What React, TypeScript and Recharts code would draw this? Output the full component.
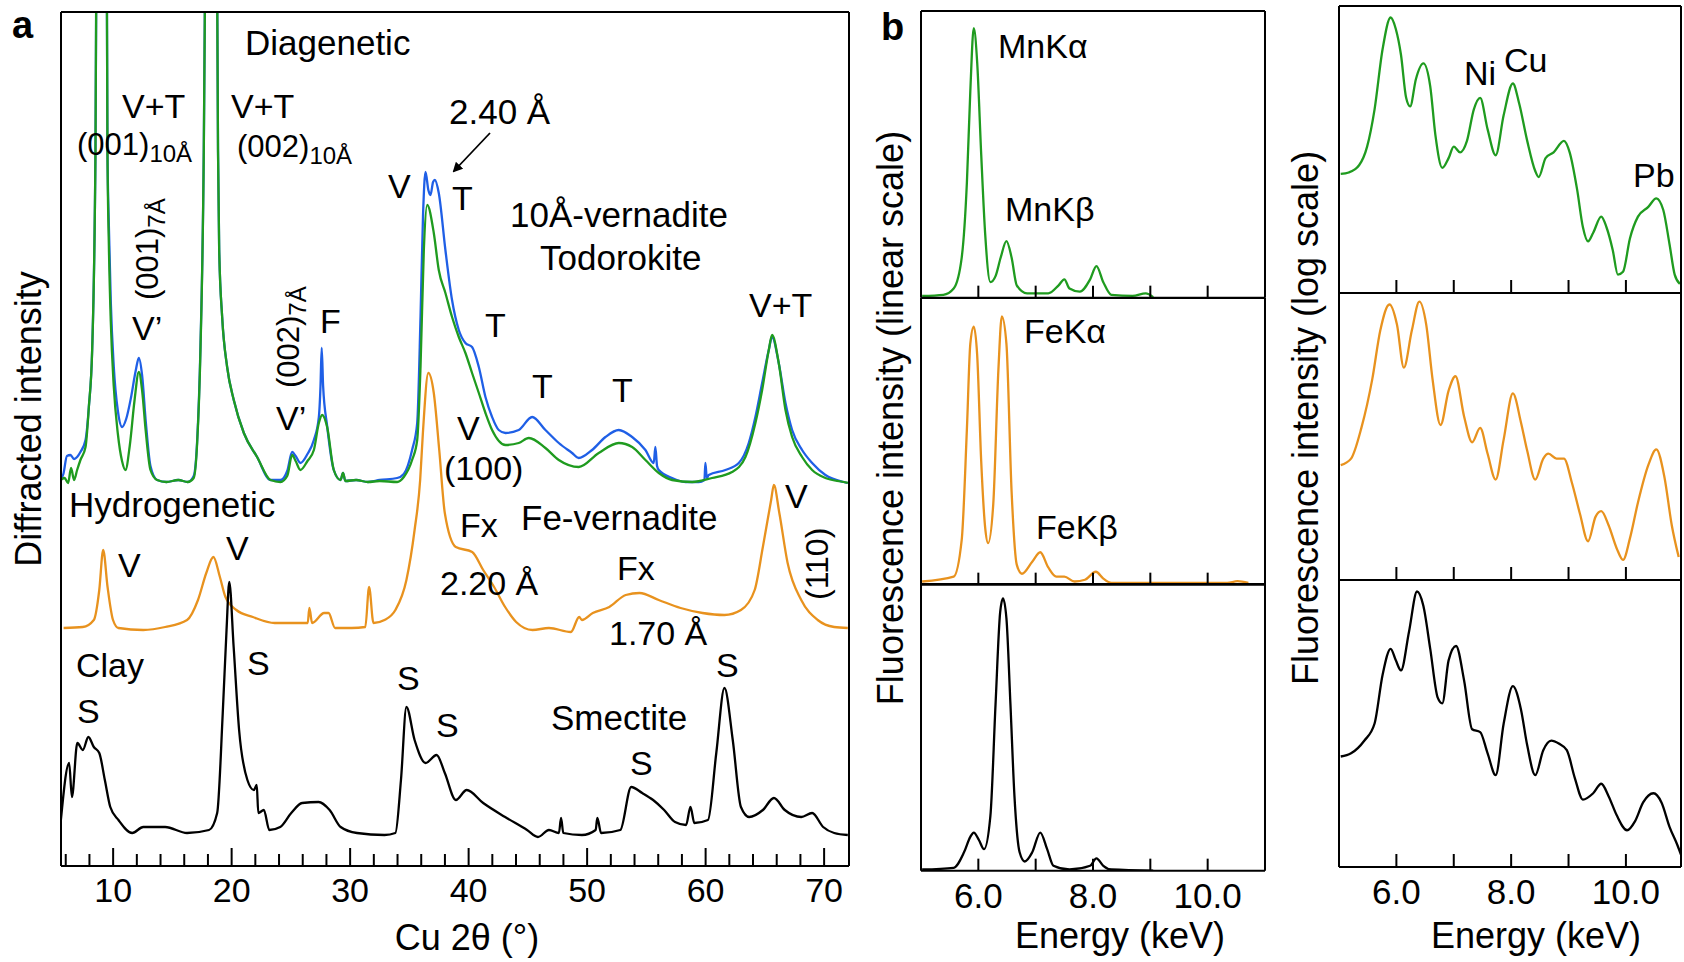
import React from "react";
import { LineChart, Line, XAxis, YAxis } from "recharts";

// ---------- panel a : XRD patterns, x = Cu 2θ (°), y = offset intensity ----------
const diageneticBlue: [number, number][] = [
  [5.56, 386], [5.8, 392], [6.1, 410], [6.4, 411], [6.7, 407], [6.96, 409], [7.24, 414], [7.67, 426],
  [7.95, 459], [8.23, 516], [8.51, 716], [8.6, 950], [9.0, 1400], [9.45, 950], [9.52, 716], [9.64, 640],
  [9.8, 565], [10.05, 500], [10.4, 455], [10.76, 439], [11.1, 447], [11.5, 468], [11.9, 495], [12.17, 508],
  [12.45, 490], [12.75, 445], [13.15, 400], [13.71, 386], [14.5, 384], [15.5, 386], [16.3, 384], [16.8, 390],
  [17.09, 425], [17.37, 520], [17.65, 716], [17.8, 950], [18.3, 1400], [18.75, 950], [18.85, 716], [18.95, 616],
  [19.2, 549], [19.62, 499], [20.18, 466], [21.03, 433], [22.15, 409], [23.28, 386], [24.12, 386], [24.69, 395],
  [25.11, 414], [25.4, 410], [25.81, 403], [26.4, 412], [26.94, 426], [27.36, 449], [27.5, 480], [27.6, 518],
  [27.72, 480], [28.06, 440], [28.62, 396], [29.19, 386], [29.4, 393], [29.6, 385], [30.5, 386], [31.5, 384],
  [32.5, 386], [33.97, 388], [34.53, 392], [35.23, 416], [35.66, 443], [35.94, 549], [36.15, 650], [36.36, 694],
  [36.6, 676], [36.78, 671], [37.0, 684], [37.15, 686], [37.48, 673], [38.04, 616], [38.6, 566], [39.17, 536],
  [39.73, 523], [40.29, 519], [40.86, 499], [41.42, 469], [41.98, 449], [42.54, 436], [43.11, 433], [44.23, 436],
  [45.36, 449], [46.48, 436], [47.61, 423], [48.73, 413], [49.29, 408], [50.42, 416], [51.55, 429], [52.67, 436],
  [53.8, 429], [54.92, 416], [55.62, 403], [55.76, 419], [55.9, 400], [56.05, 396], [57.17, 388], [58.3, 384],
  [59.42, 384], [59.9, 386], [59.98, 403], [60.1, 388], [60.26, 391], [61.67, 396], [62.8, 403], [63.64, 423],
  [64.2, 449], [64.77, 483], [65.33, 516], [65.61, 529], [66.17, 503], [66.74, 463], [67.3, 436], [68.14, 416],
  [68.99, 403], [70.11, 391], [71.66, 384], [72.0, 383],
];

const diageneticGreen: [number, number][] = [
  [5.56, 386], [5.9, 388], [6.2, 383], [6.45, 398], [6.7, 386], [6.96, 396], [7.24, 406], [7.67, 419],
  [7.95, 459], [8.23, 516], [8.51, 716], [8.6, 950], [9.0, 1400], [9.45, 950], [9.52, 716], [9.64, 620],
  [9.8, 545], [10.05, 480], [10.4, 432], [10.75, 405], [11.04, 396], [11.4, 420], [11.8, 465], [12.17, 494],
  [12.45, 475], [12.75, 435], [13.15, 396], [13.71, 386], [14.5, 384], [15.5, 386], [16.3, 384], [16.8, 388],
  [17.09, 423], [17.37, 516], [17.65, 716], [17.8, 950], [18.3, 1400], [18.75, 950], [18.85, 716], [18.95, 616],
  [19.2, 549], [19.62, 499], [20.18, 466], [21.03, 433], [22.15, 409], [23.28, 386], [24.12, 384], [24.69, 390],
  [25.11, 411], [25.4, 405], [25.81, 396], [26.4, 405], [26.94, 416], [27.36, 443], [27.64, 451], [28.06, 439],
  [28.62, 396], [29.19, 386], [29.4, 393], [29.6, 385], [30.5, 386], [31.5, 384], [32.5, 385], [33.97, 384],
  [34.53, 389], [35.23, 406], [35.66, 426], [35.94, 499], [36.22, 616], [36.5, 661], [37.06, 633], [37.48, 596],
  [38.04, 573], [38.6, 549], [39.17, 529], [39.73, 513], [40.29, 493], [40.86, 473], [41.42, 453], [41.98, 436],
  [43.11, 421], [44.23, 423], [45.08, 428], [46.48, 418], [47.61, 406], [49.29, 399], [50.98, 413], [52.67, 423],
  [53.8, 419], [54.92, 406], [56.05, 393], [57.17, 386], [58.86, 384], [60.54, 388], [62.23, 394], [63.36, 409],
  [64.2, 443], [64.77, 476], [65.33, 516], [65.61, 531], [66.17, 503], [66.74, 456], [67.3, 429], [68.14, 409],
  [68.99, 396], [70.11, 388], [71.66, 384], [72.0, 383],
];

const hydrogeneticOrange: [number, number][] = [
  [5.82, 238], [7.44, 239], [8.37, 246], [8.83, 276], [9.16, 316], [9.53, 279], [9.99, 246], [10.45, 238],
  [12.54, 236], [14.39, 239], [16.24, 246], [17.16, 266], [17.86, 293], [18.46, 309], [19.01, 289], [19.48, 269],
  [20.4, 256], [21.79, 249], [23.64, 243], [25.96, 243], [26.42, 243], [26.56, 258], [26.79, 243], [27.81, 253],
  [28.18, 253], [28.73, 238], [30.12, 238], [31.28, 239], [31.6, 279], [31.97, 243], [32.9, 246], [33.82, 256],
  [34.75, 286], [35.44, 336], [35.91, 386], [36.14, 433], [36.6, 493], [37.06, 473], [37.52, 416], [37.99, 353],
  [38.92, 319], [40.3, 314], [41.23, 296], [42.15, 279], [43.08, 259], [44.01, 244], [45.39, 236], [46.78, 238],
  [48.63, 234], [49.33, 249], [49.56, 246], [50.48, 253], [51.87, 259], [53.26, 271], [54.42, 273], [56.04, 266],
  [57.89, 258], [59.74, 253], [61.59, 251], [62.98, 256], [64.14, 276], [64.83, 319], [65.53, 366], [65.76, 381],
  [66.22, 353], [66.92, 303], [68.07, 266], [69.46, 246], [70.85, 239], [72.0, 238],
];

const clayBlack: [number, number][] = [
  [5.59, 46], [6.29, 103], [6.52, 69], [6.98, 123], [7.44, 116], [7.91, 129], [8.37, 119], [8.83, 113],
  [9.3, 86], [9.76, 59], [10.45, 46], [11.61, 33], [12.54, 39], [14.39, 39], [16.24, 33], [18.09, 36],
  [18.78, 53], [19.25, 153], [19.57, 236], [19.8, 284], [20.17, 219], [20.63, 136], [21.33, 86], [21.88, 76],
  [22.12, 81], [22.25, 53], [22.72, 56], [23.18, 36], [24.1, 39], [25.03, 53], [25.95, 63], [27.34, 64],
  [28.27, 56], [29.2, 39], [30.58, 33], [32.9, 31], [33.82, 33], [34.29, 86], [34.75, 159], [35.44, 126],
  [36.37, 103], [37.3, 111], [37.99, 93], [38.92, 66], [39.84, 76], [41.23, 63], [43.08, 49], [44.93, 36],
  [45.85, 29], [46.78, 36], [47.62, 33], [47.8, 48], [47.99, 33], [49.56, 31], [50.72, 36], [50.86, 48],
  [51.18, 33], [52.8, 36], [53.72, 79], [54.65, 73], [55.57, 66], [56.5, 56], [57.42, 44], [58.35, 41],
  [58.72, 59], [59.05, 43], [60.2, 46], [60.9, 113], [61.59, 178], [62.29, 126], [62.98, 59], [63.68, 49],
  [64.83, 56], [65.76, 68], [66.68, 56], [68.07, 49], [68.99, 53], [69.92, 39], [70.85, 33], [72.0, 31],
];

const thetaTicks = [6, 8, 10, 12, 14, 16, 18, 20, 22, 24, 26, 28, 30, 32, 34, 36, 38, 40, 42, 44, 46, 48, 50, 52, 54, 56, 58, 60, 62, 64, 66, 68, 70];
const thetaLabels = [10, 20, 30, 40, 50, 60, 70];

// ---------- panel b : XRF spectra, x = energy (keV) ----------
const mnLinear: [number, number][] = [
  [5.02, 0.6], [5.39, 1], [5.57, 3.2], [5.71, 14], [5.8, 40], [5.86, 72], [5.92, 94], [5.98, 82],
  [6.05, 50], [6.12, 22], [6.21, 5.4], [6.3, 7.5], [6.39, 14], [6.49, 19.7], [6.58, 14], [6.67, 4.3],
  [6.85, 1.5], [7.22, 1.5], [7.4, 4.3], [7.5, 6.4], [7.59, 3.2], [7.77, 2.1], [7.95, 6.4], [8.06, 11],
  [8.18, 5.4], [8.32, 1], [8.69, 0.6], [8.92, 1.5], [9.05, 0.2],
];
const feLinear: [number, number][] = [
  [5.02, 1.1], [5.57, 2.8], [5.71, 15.6], [5.8, 54], [5.86, 84], [5.92, 90], [5.98, 80], [6.05, 43],
  [6.12, 19.7], [6.17, 14.5], [6.26, 28], [6.35, 75], [6.41, 93.6], [6.49, 84], [6.58, 32.5], [6.67, 7],
  [6.76, 3.8], [6.94, 8], [7.08, 11.3], [7.22, 6], [7.36, 2.8], [7.5, 2.8], [7.68, 1.1], [7.86, 1.7],
  [8.05, 4.5], [8.18, 2.1], [8.32, 0.6], [9.05, 0.6], [10.34, 0.6], [10.52, 1.2], [10.71, 0.6],
];
const clayLinear: [number, number][] = [
  [5.02, 0.4], [5.57, 1], [5.75, 6.4], [5.86, 11.8], [5.92, 13.3], [6.01, 10.7], [6.1, 7.5], [6.21, 19],
  [6.3, 58], [6.38, 90], [6.43, 95], [6.49, 88], [6.56, 58], [6.63, 26], [6.72, 6.4], [6.81, 3.2],
  [6.94, 6.4], [7.08, 13.3], [7.2, 7.5], [7.31, 1.7], [7.59, 0.4], [7.95, 1.7], [8.06, 4.3], [8.18, 1.7],
  [8.32, 0.4], [9.05, 0],
];
const mnLog: [number, number][] = [
  [5.03, 41.5], [5.17, 42], [5.35, 44.5], [5.49, 51], [5.62, 64], [5.76, 85], [5.9, 96], [5.99, 92],
  [6.08, 83], [6.17, 68], [6.24, 65], [6.34, 74.5], [6.47, 80], [6.59, 72], [6.68, 55], [6.8, 43.6],
  [6.91, 47], [7.0, 51], [7.11, 49], [7.23, 53], [7.35, 64], [7.46, 68], [7.59, 57], [7.73, 48],
  [7.87, 62], [8.03, 73], [8.14, 66], [8.28, 53], [8.42, 42.5], [8.48, 40.4], [8.6, 47], [8.74, 49],
  [8.92, 53], [9.02, 49], [9.15, 36], [9.25, 23], [9.34, 18], [9.43, 21], [9.57, 26.6], [9.66, 23],
  [9.77, 15], [9.86, 6.4], [9.95, 7.4], [10.07, 19], [10.21, 26.6], [10.39, 30], [10.53, 33], [10.65, 29],
  [10.76, 17], [10.85, 6.4], [10.94, 3.2],
];
const feLog: [number, number][] = [
  [5.03, 40], [5.21, 42.3], [5.39, 53], [5.58, 70], [5.72, 87], [5.88, 96], [6.01, 89], [6.13, 74],
  [6.27, 87], [6.4, 97], [6.52, 89], [6.63, 70], [6.77, 54], [6.91, 66], [7.03, 71], [7.18, 57],
  [7.32, 48], [7.46, 53], [7.59, 44], [7.73, 35], [7.87, 49], [8.03, 65], [8.17, 55], [8.28, 45],
  [8.42, 35], [8.56, 42.3], [8.65, 44], [8.79, 42.3], [8.92, 42.3], [9.06, 33.8], [9.2, 23], [9.34, 13.5],
  [9.47, 22], [9.57, 24], [9.7, 19], [9.84, 11], [9.95, 7], [10.07, 14.5], [10.21, 27], [10.39, 40],
  [10.53, 45.5], [10.67, 36], [10.8, 19], [10.92, 8],
];
const clayLog: [number, number][] = [
  [5.03, 38.5], [5.21, 39.6], [5.44, 44], [5.62, 50], [5.76, 67], [5.9, 76], [5.99, 72], [6.08, 68.5],
  [6.22, 82], [6.36, 96], [6.47, 91], [6.59, 76], [6.72, 59], [6.8, 57], [6.91, 72], [7.04, 77],
  [7.18, 65], [7.32, 48], [7.46, 47], [7.59, 39.6], [7.73, 32], [7.87, 50], [8.03, 63], [8.17, 55],
  [8.28, 42.4], [8.42, 32], [8.56, 40.7], [8.7, 44], [8.83, 43], [8.97, 40.7], [9.11, 31], [9.25, 23.5],
  [9.43, 25.7], [9.57, 29], [9.7, 24.6], [9.84, 18], [10.02, 12.8], [10.16, 16], [10.3, 22.5], [10.48, 25.7],
  [10.62, 22.5], [10.76, 14], [10.9, 7.5], [10.96, 4.3],
];

const energyTicks = [6, 7, 8, 9, 10];
const energyLabels = [6, 8, 10];

const GREEN = "#1f9b1f";
const BLUE = "#1f5fe6";
const ORANGE = "#e8921e";
const BLACK = "#000000";
const FONT = "'Liberation Sans', Arial, Helvetica, sans-serif";
const frame = { stroke: "#000", strokeWidth: 2 };

const toRows = (pairs: [number, number][]) => pairs.map(([x, y]) => ({ x, y }));

function InTick(props: any) {
  const { x, y, payload, labels, longs, longLen, shortLen, size, dy, digits } = props;
  const v = payload.value;
  const len = longs.includes(v) ? longLen : shortLen;
  return (
    <g>
      <line x1={x} x2={x} y1={y} y2={y - len} stroke="#000" strokeWidth={2} />
      {labels.includes(v) && (
        <text x={x} y={y + dy} textAnchor="middle" fontSize={size} fontFamily={FONT} fill="#000">
          {v.toFixed(digits)}
        </text>
      )}
    </g>
  );
}

// axes are 1px thick (recharts skips zero-sized axes), margins are reduced by that pixel
function PanelA() {
  return (
    <div style={{ position: "absolute", left: 0, top: 0 }}>
      <LineChart width={900} height={962} margin={{ top: 11, right: 50, bottom: 95, left: 60 }}>
        <XAxis
          dataKey="x" type="number" domain={[5.6, 72.1]} allowDataOverflow ticks={thetaTicks} interval={0}
          height={1} tickSize={0} tickMargin={0} tickLine={false} axisLine={frame}
          tick={(p: any) => (
            <InTick {...p} labels={thetaLabels} longs={thetaLabels} longLen={18} shortLen={12} size={34} dy={36} digits={0} />
          )}
        />
        <XAxis xAxisId="top" orientation="top" type="number" domain={[5.6, 72.1]} height={1} tick={false} tickLine={false} axisLine={frame} />
        <YAxis type="number" domain={[0, 854]} allowDataOverflow width={1} tick={false} tickLine={false} axisLine={frame} />
        <YAxis yAxisId="right" orientation="right" type="number" domain={[0, 854]} width={1} tick={false} tickLine={false} axisLine={frame} />
        <Line data={toRows(diageneticBlue)} dataKey="y" type="monotone" stroke={BLUE} strokeWidth={2.3} dot={false} isAnimationActive={false} />
        <Line data={toRows(diageneticGreen)} dataKey="y" type="monotone" stroke={GREEN} strokeWidth={2.3} dot={false} isAnimationActive={false} />
        <Line data={toRows(hydrogeneticOrange)} dataKey="y" type="monotone" stroke={ORANGE} strokeWidth={2.3} dot={false} isAnimationActive={false} />
        <Line data={toRows(clayBlack)} dataKey="y" type="monotone" stroke={BLACK} strokeWidth={2.3} dot={false} isAnimationActive={false} />
      </LineChart>
    </div>
  );
}

function Spectrum(props: {
  rows: [number, number][]; color: string; left: number; top: number; width: number; height: number;
  domain: [number, number]; tickLen: number; showLabels: boolean;
}) {
  const { rows, color, left, top, width, height, domain, tickLen, showLabels } = props;
  const pad = 6;
  const extra = showLabels ? 50 : 0;
  return (
    <div style={{ position: "absolute", left: left - pad, top: top - pad }}>
      <LineChart
        width={width + 2 * pad} height={height + 2 * pad + extra}
        margin={{ top: pad - 1, right: pad - 1, bottom: pad - 1 + extra, left: pad - 1 }}
      >
        <XAxis
          dataKey="x" type="number" domain={domain} allowDataOverflow ticks={energyTicks} interval={0}
          height={1} tickSize={0} tickMargin={0} tickLine={false} axisLine={frame}
          tick={(p: any) => (
            <InTick {...p} labels={showLabels ? energyLabels : []} longs={[]} longLen={tickLen} shortLen={tickLen} size={35} dy={37} digits={1} />
          )}
        />
        <XAxis xAxisId="top" orientation="top" type="number" domain={domain} height={1} tick={false} tickLine={false} axisLine={frame} />
        <YAxis type="number" domain={[0, 100]} allowDataOverflow width={1} tick={false} tickLine={false} axisLine={frame} />
        <YAxis yAxisId="right" orientation="right" type="number" domain={[0, 100]} width={1} tick={false} tickLine={false} axisLine={frame} />
        <Line data={toRows(rows)} dataKey="y" type="monotone" stroke={color} strokeWidth={2.3} dot={false} isAnimationActive={false} />
      </LineChart>
    </div>
  );
}

function T(props: { x: number; y: number; s?: number; children: React.ReactNode; anchor?: string; bold?: boolean; rot?: number }) {
  const { x, y, s = 34, children, anchor = "start", bold = false, rot } = props;
  return (
    <text
      x={rot ? 0 : x} y={rot ? 0 : y}
      transform={rot ? `translate(${x},${y}) rotate(${rot})` : undefined}
      fontSize={s} fontFamily={FONT} fontWeight={bold ? 700 : 400} textAnchor={anchor as any} fill="#000"
    >
      {children}
    </text>
  );
}

function Annotations() {
  return (
    <svg width={1684} height={962} style={{ position: "absolute", left: 0, top: 0, pointerEvents: "none" }}>
      <defs>
        <marker id="head" markerWidth="10" markerHeight="10" refX="8" refY="5" orient="auto" markerUnits="userSpaceOnUse">
          <path d="M0,0 L10,5 L0,10 z" fill="#000" />
        </marker>
      </defs>
      {/* panel a */}
      <T x={12} y={38} s={38} bold>a</T>
      <T x={245} y={55} s={35}>Diagenetic</T>
      <T x={122} y={118}>V+T</T>
      <T x={77} y={155} s={31}>(001)<tspan fontSize={24} dy={7}>10Å</tspan></T>
      <T x={231} y={118}>V+T</T>
      <T x={237} y={157} s={31}>(002)<tspan fontSize={24} dy={7}>10Å</tspan></T>
      <T x={449} y={124} s={35}>2.40 Å</T>
      <line x1={490} y1={133} x2={454} y2={171} stroke="#000" strokeWidth={1.8} markerEnd="url(#head)" />
      <T x={388} y={198}>V</T>
      <T x={452} y={210}>T</T>
      <T x={510} y={227} s={35}>10Å-vernadite</T>
      <T x={540} y={270} s={35}>Todorokite</T>
      <T x={158} y={300} s={31} rot={-90}>(001)<tspan fontSize={24} dy={7}>7Å</tspan></T>
      <T x={132} y={340}>V’</T>
      <T x={299} y={388} s={31} rot={-90}>(002)<tspan fontSize={24} dy={7}>7Å</tspan></T>
      <T x={276} y={430}>V’</T>
      <T x={320} y={333}>F</T>
      <T x={485} y={337}>T</T>
      <T x={532} y={398}>T</T>
      <T x={612} y={402}>T</T>
      <T x={457} y={440}>V</T>
      <T x={444} y={480}>(100)</T>
      <T x={749} y={317}>V+T</T>
      <T x={69} y={517} s={35}>Hydrogenetic</T>
      <T x={118} y={577}>V</T>
      <T x={226} y={560}>V</T>
      <T x={460} y={537}>Fx</T>
      <T x={521} y={530} s={35}>Fe-vernadite</T>
      <T x={440} y={595}>2.20 Å</T>
      <T x={617} y={580}>Fx</T>
      <T x={609} y={645}>1.70 Å</T>
      <T x={785} y={508}>V</T>
      <T x={828} y={600} s={32} rot={-90}>(110)</T>
      <T x={76} y={677}>Clay</T>
      <T x={77} y={723}>S</T>
      <T x={247} y={675}>S</T>
      <T x={397} y={690}>S</T>
      <T x={436} y={737}>S</T>
      <T x={551} y={730} s={35}>Smectite</T>
      <T x={630} y={775}>S</T>
      <T x={716} y={677}>S</T>
      <T x={41} y={419} s={36} anchor="middle" rot={-90}>Diffracted intensity</T>
      <T x={467} y={950} s={36} anchor="middle">Cu 2θ (°)</T>
      {/* panel b */}
      <T x={881} y={40} s={38} bold>b</T>
      <T x={998} y={58}>MnKα</T>
      <T x={1005} y={221}>MnKβ</T>
      <T x={1024} y={343}>FeKα</T>
      <T x={1036} y={539}>FeKβ</T>
      <T x={1464} y={85}>Ni</T>
      <T x={1504} y={72}>Cu</T>
      <T x={1633} y={187}>Pb</T>
      <T x={903} y={418} s={36} anchor="middle" rot={-90}>Fluorescence intensity (linear scale)</T>
      <T x={1318} y={418} s={36} anchor="middle" rot={-90}>Fluorescence intensity (log scale)</T>
      <T x={1120} y={948} s={36} anchor="middle">Energy (keV)</T>
      <T x={1536} y={948} s={36} anchor="middle">Energy (keV)</T>
    </svg>
  );
}

export default function App() {
  const lw = 1265 - 921;
  const lh = (871 - 11) / 3;
  const rw = 1681 - 1339;
  const rh = (867 - 6) / 3;
  return (
    <div style={{ position: "absolute", left: 0, top: 0, width: 1684, height: 962, background: "#fff", overflow: "hidden" }}>
      <PanelA />
      <Spectrum rows={mnLinear} color={GREEN} left={921} top={11} width={lw} height={lh} domain={[5, 11]} tickLen={12} showLabels={false} />
      <Spectrum rows={feLinear} color={ORANGE} left={921} top={11 + lh} width={lw} height={lh} domain={[5, 11]} tickLen={12} showLabels={false} />
      <Spectrum rows={clayLinear} color={BLACK} left={921} top={11 + 2 * lh} width={lw} height={lh} domain={[5, 11]} tickLen={12} showLabels />
      <Spectrum rows={mnLog} color={GREEN} left={1339} top={6} width={rw} height={rh} domain={[5, 10.96]} tickLen={13} showLabels={false} />
      <Spectrum rows={feLog} color={ORANGE} left={1339} top={6 + rh} width={rw} height={rh} domain={[5, 10.96]} tickLen={13} showLabels={false} />
      <Spectrum rows={clayLog} color={BLACK} left={1339} top={6 + 2 * rh} width={rw} height={rh} domain={[5, 10.96]} tickLen={13} showLabels />
      <Annotations />
    </div>
  );
}
